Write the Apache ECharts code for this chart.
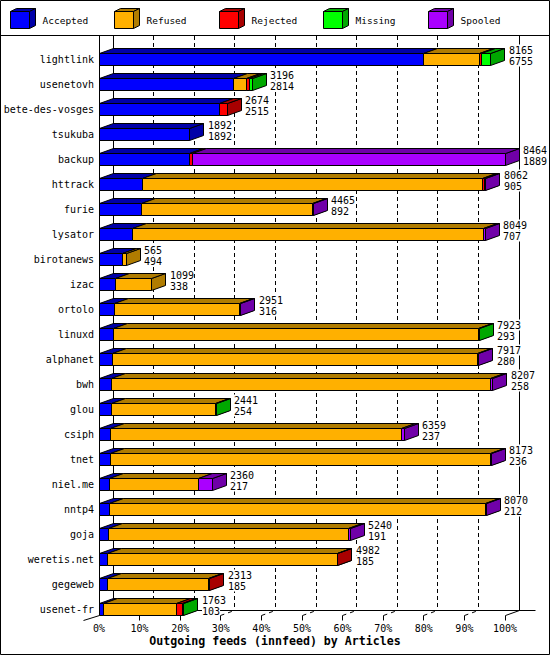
<!DOCTYPE html>
<html><head><meta charset="utf-8">
<script src="https://cdn.jsdelivr.net/npm/echarts@6/dist/echarts.min.js"></script>
<style>html,body{margin:0;padding:0;background:#fff}#c{width:550px;height:655px}</style>
</head><body><div id="c"></div>
<script>
const feeds = ['lightlink','usenetovh','bete-des-vosges','tsukuba','backup','httrack','furie','lysator','birotanews','izac','ortolo','linuxd','alphanet','bwh','glou','csiph','tnet','niel.me','nntp4','goja','weretis.net','gegeweb','usenet-fr'];
const totals   = [8165,3196,2674,1892,8464,8062,4465,8049,565,1099,2951,7923,7917,8207,2441,6359,8173,2360,8070,5240,4982,2313,1763];
const accepted = [6755,2814,2515,1892,1889,905,892,707,494,338,316,293,280,258,254,237,236,217,212,191,185,185,103];
const refused  = [1180,270,0,0,0,7092,3553,7305,71,761,2610,7610,7617,7909,2170,6067,7922,1865,7848,5009,4782,2103,1521];
const rejected = [45,60,159,0,70,35,0,0,0,0,0,0,0,0,0,0,0,0,0,0,15,25,119];
const missing  = [185,52,0,0,0,0,0,0,0,0,0,20,0,0,17,0,0,0,0,0,0,0,20];
const spooled  = [0,0,0,0,6505,30,20,37,0,0,25,0,20,40,0,55,15,278,10,40,0,0,0];
const seriesNames = ['Accepted','Refused','Rejected','Missing','Spooled'];
const xTicks = [0,10,20,30,40,50,60,70,80,90,100];
const chartTitle = 'Outgoing feeds (innfeed) by Articles';

const frontColors = ['#0000ff','#ffb000','#ff0000','#00ff00','#aa00ff'];
const sideColors  = ['#0000a8','#b07c00','#a80000','#00a800','#7000a8'];
const FONT = 'DejaVu Sans Mono';
const DX = 14, DY = 5;
const sn = v => Math.floor(v) + 0.5;

const parts = [accepted, refused, rejected, missing, spooled];
const maxTotal = Math.max.apply(null, totals);
const pct = v => v / maxTotal * 100;

function segData(k) {
  return feeds.map((f, i) => {
    let start = 0;
    for (let j = 0; j < k; j++) start += parts[j][i];
    return [pct(start), pct(start + parts[k][i]), i, parts[k][i]];
  });
}

const L = {stroke: '#000', lineWidth: 1, fill: null};

function boxRender(k) {
  return function (params, api) {
    if (api.value(3) <= 0) return null;
    const s = api.coord([api.value(0), api.value(2)]);
    const e = api.coord([api.value(1), api.value(2)]);
    const x0 = sn(s[0]), x1 = sn(e[0]);
    const y0 = sn(s[1] - 6.5), y1 = sn(s[1] + 6);
    const st = {stroke: '#000', lineWidth: 1};
    return {type: 'group', children: [
      {type: 'polygon', shape: {points: [[x1, y0], [x1 + DX, y0 - DY], [x1 + DX, y1 - DY], [x1, y1]]}, style: Object.assign({fill: sideColors[k]}, st)},
      {type: 'polygon', shape: {points: [[x0, y0], [x1, y0], [x1 + DX, y0 - DY], [x0 + DX, y0 - DY]]}, style: Object.assign({fill: sideColors[k]}, st)},
      {type: 'rect', shape: {x: x0, y: y0, width: x1 - x0, height: y1 - y0}, style: Object.assign({fill: frontColors[k]}, st)}
    ]};
  };
}

function frameRender(params, api) {
  const cs = params.coordSys;
  const last = feeds.length - 1;
  const floorFront = sn(api.coord([0, last])[1] + 6);
  const floorBack = floorFront - DY;
  const top = cs.y - 11;
  const ch = [];
  const x0 = sn(api.coord([0, 0])[0]);
  const x100 = sn(api.coord([100, 0])[0]);
  // floor back line
  ch.push({type: 'line', shape: {x1: x0 + DX, y1: floorBack, x2: x100 + DX + 16, y2: floorBack}, style: L});
  xTicks.forEach(v => {
    const fx = sn(api.coord([v, 0])[0]);
    const bx = fx + DX;
    if (v > 0 && v < 100) {
      ch.push({type: 'line', shape: {x1: bx, y1: top, x2: bx, y2: floorBack}, style: Object.assign({lineDash: [4, 3]}, L)});
      ch.push({type: 'line', shape: {x1: fx, y1: floorFront + 5, x2: fx, y2: floorFront}, style: L});
      ch.push({type: 'line', shape: {x1: fx, y1: floorFront, x2: bx, y2: floorBack}, style: Object.assign({lineDash: [4, 4]}, L)});
    }
  });
  // walls
  ch.push({type: 'line', shape: {x1: x0 + DX, y1: top, x2: x0 + DX, y2: floorBack}, style: L});
  ch.push({type: 'line', shape: {x1: x100 + DX, y1: top, x2: x100 + DX, y2: floorBack}, style: L});
  ch.push({type: 'line', shape: {x1: x0, y1: top, x2: x0, y2: floorFront}, style: L});
  ch.push({type: 'line', shape: {x1: x0, y1: floorFront, x2: x0 - 16, y2: floorFront + 5}, style: L});
  ch.push({type: 'line', shape: {x1: x100, y1: floorFront + 5, x2: x100, y2: floorFront}, style: L});
  ch.push({type: 'line', shape: {x1: x100, y1: floorFront, x2: x100 + DX, y2: floorBack}, style: L});
  return {type: 'group', children: ch};
}

function labelRender(params, api) {
  const e = api.coord([api.value(0), api.value(1)]);
  const x = Math.round(e[0] + DX + 4);
  const yTop = sn(e[1] - 6.5);
  const mk = (t, y) => ({type: 'text', x: x, y: y, style: {
    text: String(t), fill: '#000', fontFamily: FONT, fontSize: 10,
    verticalAlign: 'middle', align: 'left', backgroundColor: '#fff', lineHeight: 11
  }});
  return {type: 'group', children: [mk(api.value(2), Math.round(yTop - 3.5)), mk(api.value(3), Math.round(yTop + 7.5))]};
}

const series = [{
  type: 'custom', name: 'frame', silent: true, z: 1,
  renderItem: frameRender, data: [[0, 0]], encode: {x: 0, y: 1}
}];
seriesNames.forEach((n, k) => {
  series.push({
    type: 'custom', name: n, z: 2, silent: true,
    itemStyle: {color: frontColors[k]},
    renderItem: boxRender(k), data: segData(k), encode: {x: [0, 1], y: 2}
  });
});
series.push({
  type: 'custom', name: 'labels', z: 3, silent: true,
  renderItem: labelRender,
  data: feeds.map((f, i) => [pct(totals[i]), i, totals[i], accepted[i]]),
  encode: {x: 0, y: 1}
});

const legendLeft = [10, 114, 219, 323, 428];
const legends = seriesNames.map((n, k) => ({
  data: [{name: n, icon: 'rect'}], left: legendLeft[k], top: 11, padding: 0,
  itemWidth: 19, itemHeight: 17, selectedMode: false,
  itemStyle: {borderColor: '#000', borderWidth: 1},
  textStyle: {fontFamily: FONT, fontSize: 9.5, color: '#000', padding: [0, 0, 0, 8]}
}));

const graphics = [
  {type: 'rect', shape: {x: 0.5, y: 0.5, width: 549, height: 654}, style: {fill: null, stroke: '#000', lineWidth: 1}, silent: true},
  {type: 'line', shape: {x1: 0, y1: 35.5, x2: 550, y2: 35.5}, style: {stroke: '#000', lineWidth: 1}, silent: true}
];
legendLeft.forEach((lx, k) => {
  const a = lx + 0.5, b = 11.5, w = 19, h = 17, dx = 6, dy = 3;
  graphics.push({type: 'polygon', silent: true, shape: {points: [[a, b], [a + w, b], [a + w + dx, b - dy], [a + dx, b - dy]]}, style: {fill: sideColors[k], stroke: '#000', lineWidth: 1}});
  graphics.push({type: 'polygon', silent: true, shape: {points: [[a + w, b], [a + w + dx, b - dy], [a + w + dx, b + h - dy], [a + w, b + h]]}, style: {fill: sideColors[k], stroke: '#000', lineWidth: 1}});
});

const chart = echarts.init(document.getElementById('c'), null, {renderer: 'svg'});
chart.setOption({
  animation: false,
  backgroundColor: '#fff',
  title: {text: chartTitle, left: 'center', top: 635, padding: 0,
    textStyle: {fontFamily: FONT, fontWeight: 'bold', fontSize: 11.6, color: '#000'}},
  legend: legends,
  graphic: graphics,
  grid: {left: 99, top: 47, width: 406, height: 575, containLabel: false},
  xAxis: {type: 'value', min: 0, max: 100, interval: 10,
    axisLine: {show: false}, axisTick: {show: false}, splitLine: {show: false},
    axisLabel: {formatter: '{value}%', margin: 1, fontFamily: FONT, fontSize: 10, color: '#000'}},
  yAxis: {type: 'category', data: feeds, inverse: true,
    axisLine: {show: false}, axisTick: {show: false}, splitLine: {show: false},
    axisLabel: {margin: 5, fontFamily: FONT, fontSize: 10, color: '#000'}},
  series: series
});
</script></body></html>
